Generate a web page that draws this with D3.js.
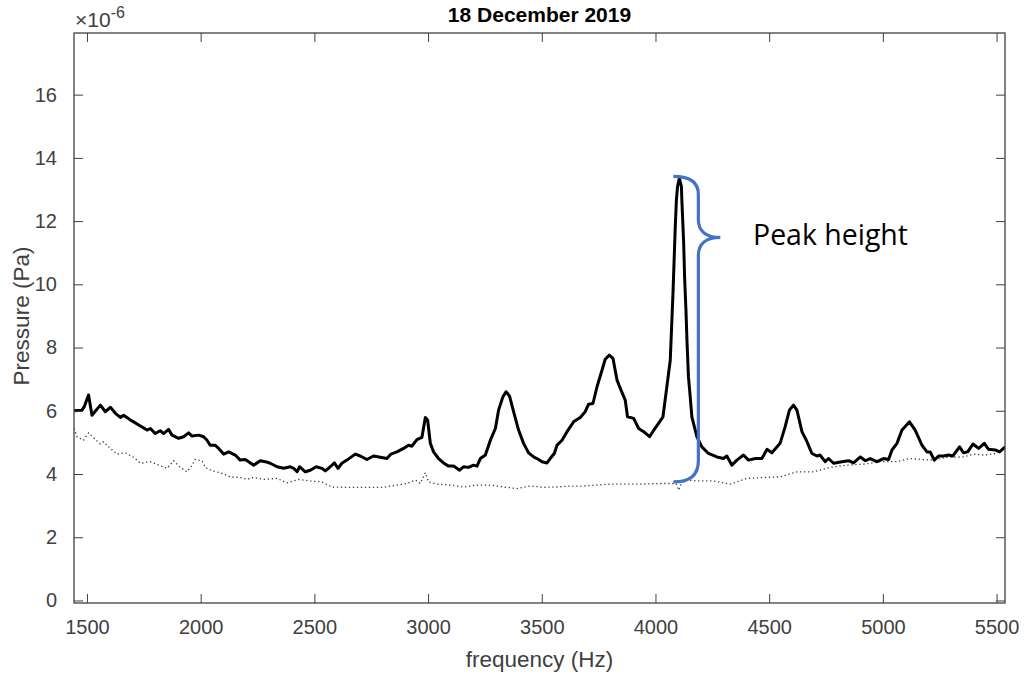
<!DOCTYPE html>
<html>
<head>
<meta charset="utf-8">
<script src="https://cdn.jsdelivr.net/npm/d3@7"></script>
<style>
  body { margin: 0; background: #fff; }
  svg { display: block; }
</style>
</head>
<body>
<svg id="chart" width="1024" height="677"></svg>
<script>
// Spectrum with resonance (solid) and background noise floor (dotted), Pa x 1e-6
const freqSolid = [1443,1478,1488,1507,1522,1559,1581,1603,1625,1647,1661,1698,1735,1764,1779,1800,1822,1837,1859,1874,1903,1925,1947,1962,1991,2013,2028,2042,2064,2079,2101,2123,2152,2174,2196,2211,2233,2262,2284,2306,2336,2365,2394,2409,2424,2435,2460,2482,2508,2533,2548,2570,2588,2604,2621,2643,2680,2702,2731,2760,2790,2819,2837,2863,2892,2914,2929,2951,2973,2988,2998,3010,3024,3046,3068,3090,3112,3139,3156,3178,3200,3215,3230,3252,3274,3296,3310,3329,3343,3358,3376,3398,3420,3442,3464,3486,3501,3523,3537,3555,3567,3589,3611,3640,3669,3691,3706,3725,3743,3765,3779,3797,3813,3831,3848,3867,3877,3904,3926,3948,3974,3991,4018,4033,4050,4065,4071,4077,4082,4087,4092,4097,4105,4114,4116,4124,4128,4134,4139,4145,4154,4160,4182,4204,4233,4270,4299,4314,4336,4358,4387,4409,4439,4468,4490,4512,4548,4570,4589,4607,4622,4644,4663,4688,4710,4724,4746,4761,4783,4820,4849,4871,4901,4923,4944,4974,5003,5025,5040,5062,5084,5117,5142,5172,5194,5208,5226,5245,5267,5289,5308,5337,5355,5373,5396,5421,5446,5465,5494,5513,5538];
const pressureSolid = [6.00,6.02,6.13,6.50,5.86,6.18,5.97,6.11,5.92,5.79,5.86,5.68,5.52,5.39,5.44,5.28,5.37,5.28,5.41,5.23,5.13,5.18,5.30,5.20,5.23,5.18,5.07,4.91,4.91,4.81,4.63,4.70,4.60,4.44,4.46,4.39,4.28,4.42,4.39,4.34,4.23,4.18,4.23,4.18,4.07,4.23,4.07,4.12,4.23,4.18,4.10,4.23,4.35,4.18,4.34,4.44,4.63,4.57,4.46,4.57,4.53,4.49,4.63,4.70,4.81,4.91,4.88,5.09,5.16,5.79,5.71,4.97,4.70,4.49,4.35,4.25,4.25,4.12,4.23,4.21,4.28,4.25,4.49,4.60,5.07,5.44,6.02,6.44,6.60,6.47,5.97,5.39,4.97,4.67,4.54,4.46,4.39,4.35,4.49,4.65,4.91,5.07,5.34,5.65,5.79,5.97,6.21,6.23,6.76,7.29,7.63,7.76,7.66,6.97,6.66,6.34,5.81,5.76,5.44,5.34,5.18,5.37,5.65,5.81,6.76,7.60,8.66,9.72,10.77,11.82,12.67,13.09,13.35,13.09,12.67,11.30,10.24,9.19,8.13,7.08,6.34,5.81,5.18,4.86,4.65,4.54,4.49,4.57,4.28,4.44,4.60,4.44,4.49,4.49,4.78,4.67,4.97,5.49,6.02,6.18,6.02,5.34,5.07,4.65,4.57,4.60,4.39,4.49,4.34,4.39,4.42,4.35,4.54,4.42,4.49,4.39,4.49,4.46,4.76,4.97,5.39,5.65,5.39,4.91,4.70,4.70,4.44,4.57,4.57,4.60,4.57,4.86,4.67,4.70,4.95,4.81,4.97,4.78,4.76,4.70,4.86];

const freqDotted = [1443,1456,1485,1507,1537,1559,1573,1595,1632,1669,1705,1735,1779,1815,1852,1881,1910,1940,1962,1976,2006,2020,2050,2086,2130,2174,2204,2233,2277,2336,2380,2431,2482,2533,2577,2628,2687,2746,2804,2863,2907,2944,2966,2988,3002,3039,3098,3156,3215,3274,3332,3391,3450,3508,3567,3625,3684,3743,3801,3860,3934,4022,4090,4102,4115,4138,4182,4255,4329,4402,4475,4548,4622,4695,4769,4842,4915,4988,5062,5117,5208,5282,5355,5399,5443,5499];
const pressureDotted = [5.44,5.18,5.07,5.30,5.09,4.95,5.02,4.86,4.63,4.67,4.53,4.34,4.39,4.28,4.18,4.42,4.21,4.07,4.28,4.46,4.42,4.21,4.10,4.04,3.91,3.89,3.83,3.89,3.83,3.86,3.72,3.83,3.78,3.75,3.59,3.58,3.58,3.58,3.58,3.65,3.70,3.81,3.70,4.04,3.75,3.68,3.65,3.59,3.65,3.65,3.59,3.54,3.62,3.58,3.59,3.62,3.62,3.65,3.68,3.68,3.68,3.70,3.70,3.49,3.72,3.81,3.78,3.78,3.68,3.86,3.89,3.91,4.07,4.07,4.21,4.28,4.31,4.39,4.39,4.49,4.44,4.53,4.54,4.63,4.60,4.65];

const xTicks = [1500,2000,2500,3000,3500,4000,4500,5000,5500];
const yTicks = [0,2,4,6,8,10,12,14,16];
const xDomain = [1443, 5537];
const yDomain = [-0.08, 17.95];

const titleText = "18 December 2019";
const xLabel = "frequency (Hz)";
const yLabel = "Pressure (Pa)";
const annotationText = "Peak height";

const svg = d3.select("#chart");
const plot = { left: 74, top: 33, right: 1005, bottom: 603 };
const axisColor = "#404040";
const font = "'Liberation Sans', Arial, Helvetica, sans-serif";

const x = d3.scaleLinear().domain(xDomain).range([plot.left, plot.right]);
const y = d3.scaleLinear().domain(yDomain).range([plot.bottom, plot.top]);

svg.append("defs").append("clipPath").attr("id", "plotClip")
  .append("rect")
  .attr("x", plot.left).attr("y", plot.top)
  .attr("width", plot.right - plot.left).attr("height", plot.bottom - plot.top);

const line = d3.line().x(d => x(d[0])).y(d => y(d[1]));

const dotted = d3.zip(freqDotted, pressureDotted);
const solid = d3.zip(freqSolid, pressureSolid);

const lines = svg.append("g").attr("clip-path", "url(#plotClip)");
lines.append("path")
  .datum(dotted)
  .attr("d", line)
  .attr("fill", "none")
  .attr("stroke", "#3a3a3a")
  .attr("stroke-width", 1.3)
  .attr("stroke-dasharray", "1.3 2.7");
lines.append("path")
  .datum(solid)
  .attr("d", line)
  .attr("fill", "none")
  .attr("stroke", "#000")
  .attr("stroke-width", 3)
  .attr("stroke-linejoin", "round");

// Axes: ticks point inward on all four sides (boxed frame)
const tickLen = 9;
const xAxisB = d3.axisBottom(x).tickValues(xTicks).tickSize(-tickLen).tickPadding(tickLen + 8).tickFormat(d3.format("d"));
const xAxisT = d3.axisTop(x).tickValues(xTicks).tickSize(-tickLen).tickFormat("");
const yAxisL = d3.axisLeft(y).tickValues(yTicks).tickSize(-tickLen).tickPadding(tickLen + 8).tickFormat(d3.format("d"));
const yAxisR = d3.axisRight(y).tickValues(yTicks).tickSize(-tickLen).tickFormat("");

function styleAxis(g) {
  g.selectAll("path.domain").remove();
  g.selectAll("line").attr("stroke", axisColor).attr("stroke-width", 1);
  g.selectAll("text").attr("fill", axisColor).style("font-family", font).style("font-size", "20px");
}

svg.append("g").attr("transform", `translate(0,${plot.bottom})`).call(xAxisB).call(styleAxis);
svg.append("g").attr("transform", `translate(0,${plot.top})`).call(xAxisT).call(styleAxis);
svg.append("g").attr("transform", `translate(${plot.left},0)`).call(yAxisL).call(styleAxis);
svg.append("g").attr("transform", `translate(${plot.right},0)`).call(yAxisR).call(styleAxis);

svg.append("rect")
  .attr("x", plot.left).attr("y", plot.top)
  .attr("width", plot.right - plot.left).attr("height", plot.bottom - plot.top)
  .attr("fill", "none").attr("stroke", axisColor).attr("stroke-width", 1.3);

// Exponent marker
const expo = svg.append("text")
  .attr("x", plot.left + 1).attr("y", 27)
  .attr("fill", axisColor).style("font-family", font).style("font-size", "21px");
expo.append("tspan").text("\u00d710");
expo.append("tspan").attr("dy", -9).style("font-size", "16px").text("-6");

// Title and axis labels
svg.append("text")
  .attr("x", (plot.left + plot.right) / 2).attr("y", 22)
  .attr("text-anchor", "middle")
  .attr("fill", "#000").style("font-family", font).style("font-size", "21px").style("font-weight", "bold")
  .text(titleText);

svg.append("text")
  .attr("x", (plot.left + plot.right) / 2).attr("y", 667)
  .attr("text-anchor", "middle")
  .attr("fill", axisColor).style("font-family", font).style("font-size", "22.5px")
  .text(xLabel);

svg.append("text")
  .attr("transform", `translate(29,${(plot.top + plot.bottom) / 2 - 2}) rotate(-90)`)
  .attr("text-anchor", "middle")
  .attr("fill", axisColor).style("font-family", font).style("font-size", "22.5px")
  .text(yLabel);

// Curly brace marking the height of the tallest peak above the noise floor
const peakIdx = d3.maxIndex(pressureSolid);
const peakF = freqSolid[peakIdx];
const peakP = pressureSolid[peakIdx];
const floorP = 3.75;
const bx = x(peakF) - 6;
const yt = y(peakP) - 2;
const yb = y(floorP);
const stem = bx + 25, tip = bx + 47, ym = yt + 61;
const brace = `M${bx},${yt} C${bx + 17},${yt} ${stem},${yt + 6} ${stem},${yt + 18}`
  + ` L${stem},${ym - 18} C${stem},${ym - 6} ${stem + 8},${ym} ${tip},${ym}`
  + ` C${stem + 8},${ym} ${stem},${ym + 6} ${stem},${ym + 18}`
  + ` L${stem},${yb - 21} C${stem},${yb - 7} ${bx + 17},${yb} ${bx},${yb}`;
svg.append("path")
  .attr("d", brace)
  .attr("fill", "none")
  .attr("stroke", "#4472C4")
  .attr("stroke-width", 3.2)
  .attr("stroke-linecap", "butt");

const note = svg.append("text")
  .attr("x", 753).attr("y", 245)
  .attr("fill", "#000").style("font-family", "'Open Sans', 'Noto Sans', sans-serif").style("font-size", "24px")
  .text(annotationText);
// fit the label to its intended span
const w = note.node().getComputedTextLength();
note.style("font-size", (24 * 155 / w).toFixed(2) + "px");
</script>
</body>
</html>
